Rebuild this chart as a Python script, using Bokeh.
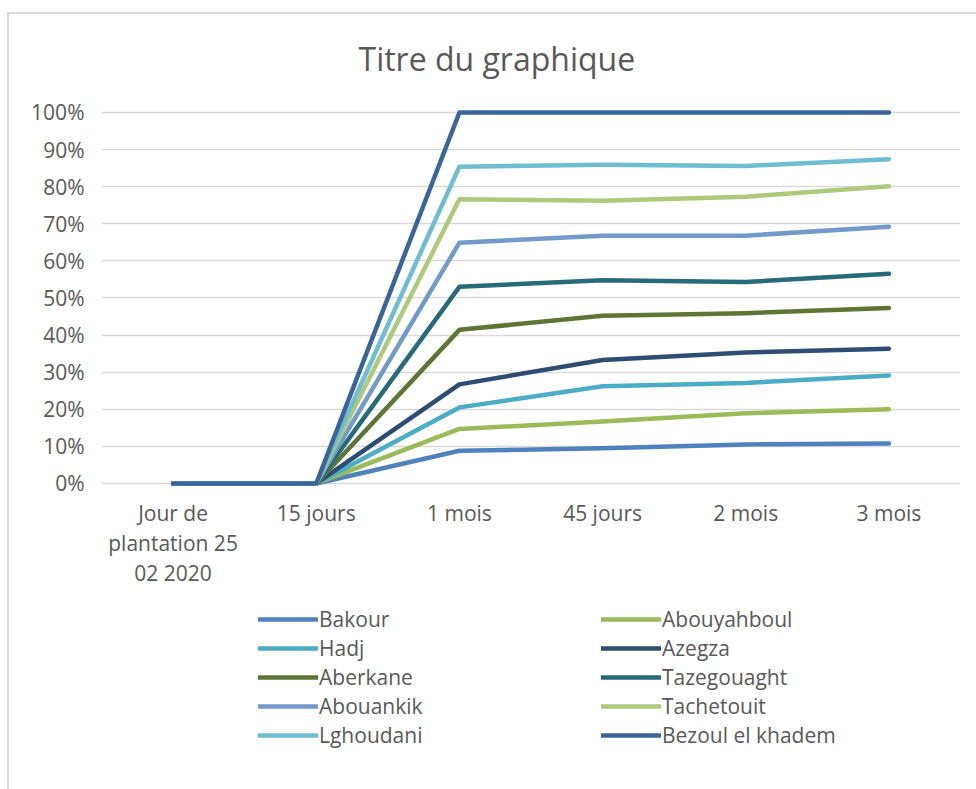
from bokeh.plotting import figure
from bokeh.models import Range1d, FixedTicker, Legend, LegendItem, InlineStyleSheet
from bokeh.embed import file_html
from bokeh.resources import INLINE

categories = ["Jour de\nplantation 25\n02 2020", "15 jours", "1 mois", "45 jours", "2 mois", "3 mois"]
y_ticks = [0, 10, 20, 30, 40, 50, 60, 70, 80, 90, 100]

bakour = [0, 0, 8.8, 9.5, 10.5, 10.8]
abouyahboul = [0, 0, 14.7, 16.7, 18.9, 20.0]
hadj = [0, 0, 20.5, 26.2, 27.1, 29.1]
azegza = [0, 0, 26.7, 33.3, 35.3, 36.3]
aberkane = [0, 0, 41.4, 45.2, 45.9, 47.3]
tazegouaght = [0, 0, 53.0, 54.8, 54.3, 56.5]
abouankik = [0, 0, 64.9, 66.8, 66.8, 69.2]
tachetouit = [0, 0, 76.6, 76.2, 77.3, 80.1]
lghoudani = [0, 0, 85.4, 85.9, 85.6, 87.4]
bezoul = [0, 0, 100, 100, 100, 100]

series_names = ["Bakour", "Abouyahboul", "Hadj", "Azegza", "Aberkane", "Tazegouaght",
                "Abouankik", "Tachetouit", "Lghoudani", "Bezoul el khadem"]
series_values = [bakour, abouyahboul, hadj, azegza, aberkane, tazegouaght,
                 abouankik, tachetouit, lghoudani, bezoul]
colors = ["#4F81BD", "#9BBB59", "#4BACC6", "#2E4D74", "#5F7534", "#276A7A",
          "#729ACA", "#AFC97A", "#6FBDD1", "#3A6599"]

FONT = "Open Sans"
GREY = "#595959"

x = list(range(len(categories)))

# frame extends down to hold the category labels and the legend (3.71 px per %)
p = figure(frame_width=859, frame_height=680,
           min_border_left=101, min_border_right=16, min_border_top=109, min_border_bottom=0,
           x_range=Range1d(-0.5, len(categories) - 0.5), y_range=Range1d(-82.5, 100.8),
           output_backend="svg", toolbar_location=None,
           title="Titre du graphique")
p.outline_line_color = None
p.background_fill_color = "white"
p.border_fill_color = "white"

p.title.align = "left"
p.title.offset = 257
p.title.text_font = FONT
p.title.text_font_size = "32px"
p.title.text_font_style = "normal"
p.title.text_color = GREY
p.title.standoff = 60

# axes
p.xaxis.ticker = FixedTicker(ticks=x)
p.xaxis.major_label_overrides = {i: c for i, c in enumerate(categories)}
p.xaxis.fixed_location = 0
p.yaxis.ticker = FixedTicker(ticks=y_ticks)
p.yaxis.major_label_overrides = {t: f"{t}%" for t in y_ticks}
for ax in (p.xaxis[0], p.yaxis[0]):
    ax.axis_line_color = None
    ax.major_tick_line_color = None
    ax.minor_tick_line_color = None
    ax.major_tick_in = 0
    ax.major_tick_out = 0
    ax.major_label_text_font = FONT
    ax.major_label_text_font_size = "21px"
    ax.major_label_text_color = GREY
p.yaxis.major_label_standoff = 17
p.xaxis.major_label_standoff = 16
p.xaxis.major_label_text_line_height = 1.06

p.xgrid.grid_line_color = None
p.ygrid.grid_line_color = "#d9d9d9"
p.ygrid.grid_line_width = 1.5

renderers = []
for name, vals, col in zip(series_names, series_values, colors):
    r = p.line(x, vals, line_color=col, line_width=4.5, line_cap="round", line_join="round")
    renderers.append(r)

items = [LegendItem(label=n, renderers=[r]) for n, r in zip(series_names, renderers)]
# legend fills column by column: left column gets series 1,3,5,7,9
legend_items = items[0::2] + items[1::2]

lg = Legend(items=legend_items, location=(157, 40), orientation="vertical", ncols=2)
lg.label_text_font = FONT
lg.label_text_font_size = "21px"
lg.label_text_color = GREY
lg.glyph_width = 60
lg.glyph_height = 20
lg.label_height = 20
lg.label_width = 281
lg.label_standoff = 1
lg.spacing = 1
lg.padding = 0
lg.margin = 0
lg.border_line_color = None
lg.background_fill_alpha = 0
p.add_layout(lg, "center")

# chart border (light grey frame around the whole chart)
p.stylesheets = [InlineStyleSheet(css=":host::after { content: ''; position: absolute; left: 7px; top: 12px; "
                                      "right: -20px; bottom: -20px; border-left: 2px solid #d9d9d9; "
                                      "border-top: 2px solid #d9d9d9; pointer-events: none; }")]

open("out.html", "w").write(file_html(p, INLINE))
